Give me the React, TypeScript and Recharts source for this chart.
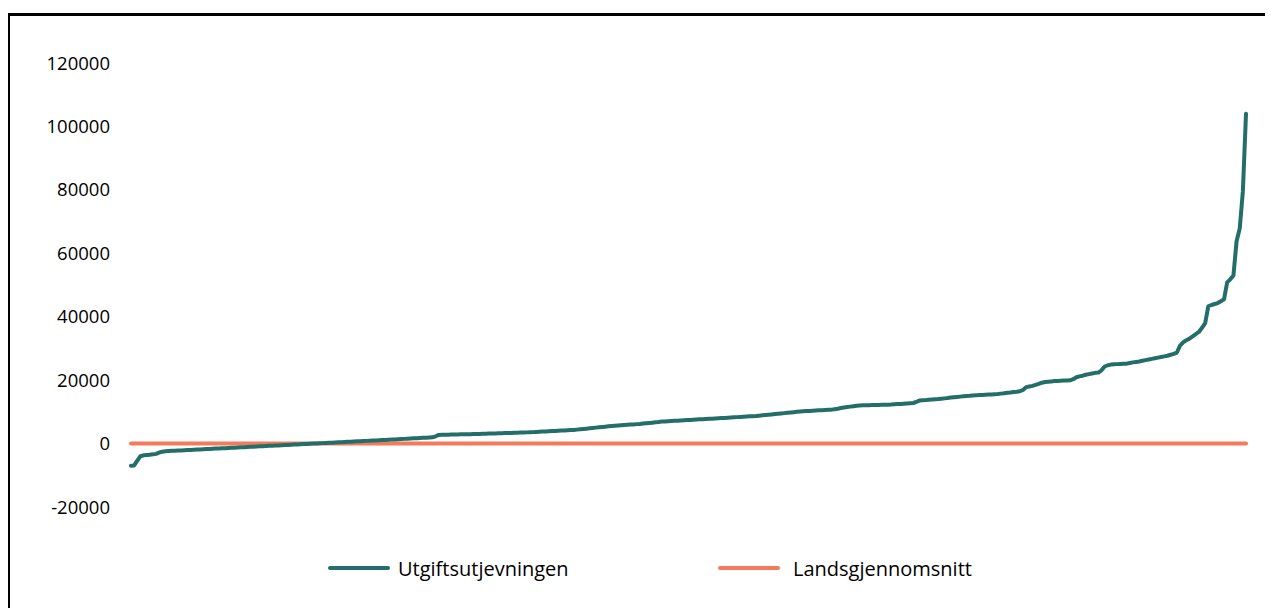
import { LineChart, Line, XAxis, YAxis, Legend } from "recharts";

// sorted per kommune, kr per innbygger
const utgiftsutjevningen = [
  -7000, -6900, -5400, -4000, -3700, -3600, -3500, -3400, -3250, -2800,
  -2550, -2450, -2350, -2300, -2250, -2200, -2150, -2100, -2050, -2000,
  -1940, -1890, -1840, -1790, -1740, -1690, -1640, -1590, -1540, -1490,
  -1440, -1390, -1330, -1280, -1230, -1180, -1130, -1080, -1030, -980,
  -930, -880, -830, -780, -720, -670, -620, -570, -520, -470,
  -420, -370, -320, -270, -220, -160, -110, -60, -10, 40,
  90, 140, 190, 240, 290, 350, 400, 450, 500, 550,
  600, 650, 700, 750, 800, 850, 900, 950, 1000, 1050,
  1100, 1150, 1200, 1260, 1310, 1370, 1420, 1480, 1530, 1590,
  1640, 1700, 1750, 1810, 1860, 1920, 1970, 2300, 2740, 2760,
  2780, 2800, 2830, 2850, 2870, 2900, 2920, 2950, 2970, 3000,
  3020, 3050, 3080, 3110, 3150, 3180, 3210, 3240, 3270, 3300,
  3340, 3370, 3400, 3430, 3460, 3490, 3530, 3560, 3610, 3660,
  3710, 3770, 3820, 3870, 3930, 3980, 4040, 4090, 4140, 4200,
  4250, 4300, 4400, 4500, 4600, 4700, 4800, 4920, 5030, 5140,
  5240, 5340, 5450, 5530, 5600, 5680, 5750, 5830, 5900, 5980,
  6050, 6130, 6200, 6300, 6400, 6500, 6600, 6700, 6800, 6930,
  6990, 7050, 7100, 7160, 7220, 7280, 7340, 7400, 7460, 7520,
  7580, 7640, 7700, 7750, 7800, 7860, 7920, 7980, 8040, 8100,
  8160, 8220, 8280, 8340, 8400, 8460, 8520, 8580, 8640, 8700,
  8800, 8900, 9000, 9100, 9200, 9300, 9400, 9500, 9600, 9700,
  9800, 9900, 10000, 10100, 10180, 10240, 10300, 10350, 10420, 10480,
  10540, 10600, 10650, 10700, 10850, 11000, 11200, 11350, 11500, 11650,
  11800, 11950, 12000, 12050, 12080, 12100, 12130, 12160, 12190, 12220,
  12250, 12270, 12300, 12380, 12450, 12500, 12580, 12650, 12720, 12800,
  13100, 13550, 13650, 13700, 13800, 13900, 14000, 14050, 14150, 14250,
  14350, 14500, 14600, 14700, 14800, 14900, 15000, 15050, 15150, 15200,
  15300, 15350, 15400, 15450, 15500, 15580, 15650, 15750, 15850, 16000,
  16100, 16250, 16350, 16500, 16900, 17800, 18000, 18200, 18500, 18800,
  19200, 19400, 19500, 19600, 19700, 19750, 19800, 19850, 19900, 19950,
  20300, 20900, 21200, 21400, 21700, 21900, 22100, 22300, 22400, 23100,
  24300, 24700, 24900, 25000, 25050, 25100, 25150, 25200, 25400, 25600,
  25750, 25900, 26100, 26300, 26500, 26700, 26900, 27100, 27300, 27500,
  27700, 28000, 28300, 28700, 30900, 31900, 32600, 33100, 33800, 34500,
  35200, 36500, 38000, 43300, 43700, 44000, 44300, 44900, 45500, 50800,
  51800, 53000, 63800, 67800, 79500, 104000,
];

const landsgjennomsnitt = 0;

const yTicks = [-20000, 0, 20000, 40000, 60000, 80000, 100000, 120000];

const serier = [
  { key: "utgift", navn: "Utgiftsutjevningen", farge: "#246e69" },
  { key: "snitt", navn: "Landsgjennomsnitt", farge: "#f47a5b" },
];

const data = utgiftsutjevningen.map((v, i) => ({
  kommune: i + 1,
  utgift: v,
  snitt: landsgjennomsnitt,
}));

const FONT = "'Open Sans', sans-serif";

const Forklaring = () => (
  <div style={{ display: "flex", alignItems: "center", height: 28, fontFamily: FONT, fontSize: 20, color: "#000" }}>
    {serier.map((s, i) => (
      <div key={s.key} style={{ display: "flex", alignItems: "center", width: i === 0 ? 390 : "auto" }}>
        <svg width={62} height={6} style={{ marginRight: i === 0 ? 8 : 13 }}>
          <line x1={2} y1={3} x2={60} y2={3} stroke={s.farge} strokeWidth={4} strokeLinecap="round" />
        </svg>
        <span style={{ whiteSpace: "nowrap" }}>{s.navn}</span>
      </div>
    ))}
  </div>
);

export default function App() {
  return (
    <div style={{ position: "relative", width: 1257, height: 600 }}>
      <style>{"body{overflow:hidden}"}</style>
      <div
        style={{
          position: "absolute",
          left: -1,
          top: 5,
          width: 1300,
          height: 640,
          borderTop: "3px solid #000",
          borderLeft: "3px solid #000",
          boxSizing: "border-box",
        }}
      />
      <LineChart
        width={1257}
        height={600}
        data={data}
        margin={{ top: 55, right: 19, left: 23, bottom: 101 }}
        style={{ position: "absolute", left: 0, top: 0 }}
      >
        <XAxis dataKey="kommune" hide padding={{ left: 0, right: 0 }} />
        <YAxis
          width={100}
          domain={[-20000, 120000]}
          ticks={yTicks}
          axisLine={false}
          tickLine={false}
          tickSize={0}
          tickMargin={21}
          tick={{ fill: "#000", fontSize: 18.5, fontFamily: FONT }}
        />
        <Legend
          verticalAlign="middle"
          align="center"
          content={() => <Forklaring />}
          wrapperStyle={{ top: 546, left: 320, width: 700, height: 28 }}
        />
        <Line
          dataKey="snitt"
          stroke="#f47a5b"
          strokeWidth={4}
          strokeLinecap="round"
          dot={false}
          isAnimationActive={false}
        />
        <Line
          dataKey="utgift"
          stroke="#246e69"
          strokeWidth={4}
          strokeLinecap="round"
          strokeLinejoin="round"
          dot={false}
          isAnimationActive={false}
        />
      </LineChart>
    </div>
  );
}
